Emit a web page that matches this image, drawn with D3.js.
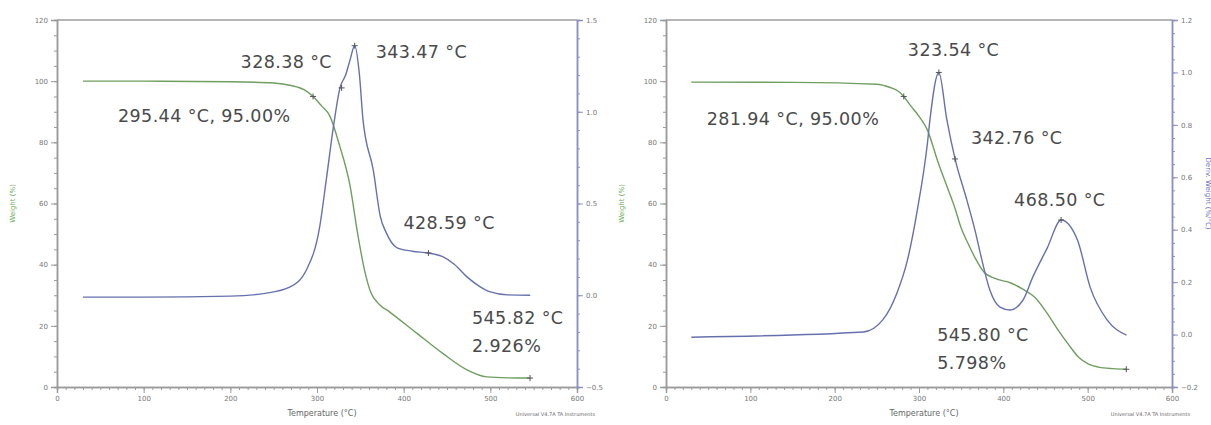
<!DOCTYPE html>
<html>
<head>
<meta charset="utf-8">
<script src="https://cdn.jsdelivr.net/npm/d3@7"></script>
<style>
  body { margin: 0; background: #fff; }
  svg { display: block; }
  .tick text { font-family: "DejaVu Sans", sans-serif; }
</style>
</head>
<body>
<div id="main"></div>
<script>
// ---- data ----
// left sample
const leftWeightT = [30, 100, 200, 250, 270, 285, 295.44, 305, 315, 326, 338, 347, 355, 362, 372, 384, 415, 445, 473, 496, 520, 545.82];
const leftWeight  = [100, 100, 99.8, 99.4, 98.6, 97.2, 95, 92, 88.5, 79, 66, 50, 38, 31, 27, 24.5, 17.6, 11, 5.6, 3.3, 3.0, 2.926];
const leftDerivT  = [30, 100, 200, 240, 269, 288, 303, 311, 319, 326.5, 333, 338, 343.47, 349, 353, 365, 373, 380, 392, 410, 428.59, 445, 458, 473, 487, 500, 520, 546];
const leftDeriv   = [-0.01, -0.01, -0.005, 0.01, 0.045, 0.14, 0.37, 0.64, 0.92, 1.13, 1.2, 1.28, 1.36, 1.2, 0.96, 0.68, 0.43, 0.34, 0.26, 0.24, 0.23, 0.21, 0.17, 0.1, 0.05, 0.018, 0.002, 0.0];

// right sample
const rightWeightT = [30, 150, 250, 265, 275, 281.94, 290, 300, 310, 322, 334, 342, 350, 358, 367, 377, 390, 409, 423, 437, 451, 465, 477, 489, 501, 513, 530, 545.8];
const rightWeight  = [99.7, 99.6, 99, 98, 96.8, 95, 92, 88.5, 84, 74, 65, 59, 52, 47, 42, 37.6, 35.5, 34, 32, 29.4, 24.5, 18.6, 14, 9.8, 7.5, 6.5, 6, 5.8];
const rightDerivT  = [30, 234, 257, 274, 286, 298, 310, 313, 323.54, 333, 342.76, 357, 367, 372, 384, 396, 408, 423, 435, 452, 468.5, 488, 503, 523, 546];
const rightDeriv   = [-0.01, 0.01, 0.056, 0.16, 0.28, 0.475, 0.73, 0.82, 1.0, 0.82, 0.67, 0.51, 0.39, 0.32, 0.17, 0.105, 0.094, 0.13, 0.22, 0.33, 0.437, 0.36, 0.18, 0.056, -0.002];

// tick labels
const tempTicks = [0, 100, 200, 300, 400, 500, 600];
const weightTicks = [0, 20, 40, 60, 80, 100, 120];
const leftDerivTicks = [-0.5, 0.0, 0.5, 1.0, 1.5];
const rightDerivTicks = [-0.2, 0.0, 0.2, 0.4, 0.6, 0.8, 1.0, 1.2];

// annotations (text offset from the marked point)
const leftNotes = [
  { lines: ["328.38 °C"], t: 328.38, dx: -101, dy: -20 },
  { lines: ["343.47 °C"], t: 343.47, dx: 21, dy: 12 },
  { lines: ["295.44 °C, 95.00%"], t: 295.44, dx: -195, dy: 26 },
  { lines: ["428.59 °C"], t: 428.59, dx: -25, dy: -24 },
  { lines: ["545.82 °C", "2.926%"], t: 545.82, dx: -58, dy: -54 }
];
const rightNotes = [
  { lines: ["323.54 °C"], t: 323.54, dx: -31, dy: -16 },
  { lines: ["342.76 °C"], t: 342.76, dx: 16, dy: -15 },
  { lines: ["281.94 °C, 95.00%"], t: 281.94, dx: -197, dy: 29 },
  { lines: ["468.50 °C"], t: 468.5, dx: -47, dy: -14 },
  { lines: ["545.80 °C", "5.798%"], t: 545.8, dx: -189, dy: -28 }
];

const width = 1211, height = 425;
const plotTop = 20, plotBottom = 387;
const green = "#6f9e5f", blue = "#6670ad", axisGrey = "#9a9a9a", textCol = "#4a4a4a";

const svg = d3.select("#main")
  .append("svg")
  .attr("width", width)
  .attr("height", height);

function drawPanel(p) {
  const x = d3.scaleLinear().domain([0, 600]).range([p.x0, p.x1]);
  const yW = d3.scaleLinear().domain([0, 120]).range([plotBottom, plotTop]);
  const yD = d3.scaleLinear().domain(p.dDomain).range([plotBottom, plotTop]);

  const g = svg.append("g");

  // top frame line
  g.append("line")
    .attr("x1", p.x0).attr("x2", p.x1)
    .attr("y1", plotTop).attr("y2", plotTop)
    .attr("stroke", "#b5b5b5").attr("stroke-width", 2);

  // x axis, minor then major
  const xMinor = g.append("g").attr("transform", `translate(0,${plotBottom})`)
    .call(d3.axisBottom(x).ticks(60).tickSize(3).tickFormat(""));
  const xAxis = g.append("g").attr("transform", `translate(0,${plotBottom})`)
    .call(d3.axisBottom(x).tickValues(tempTicks).tickSize(6).tickFormat(d3.format("d")));

  // left weight axis
  const wMinor = g.append("g").attr("transform", `translate(${p.x0},0)`)
    .call(d3.axisLeft(yW).ticks(24).tickSize(3).tickFormat(""));
  const wAxis = g.append("g").attr("transform", `translate(${p.x0},0)`)
    .call(d3.axisLeft(yW).tickValues(weightTicks).tickSize(6).tickFormat(d3.format("d")));

  // right deriv axis
  const dMinor = g.append("g").attr("transform", `translate(${p.x1},0)`)
    .call(d3.axisRight(yD).ticks(p.dMinor).tickSize(3).tickFormat(""));
  const dAxis = g.append("g").attr("transform", `translate(${p.x1},0)`)
    .call(d3.axisRight(yD).tickValues(p.dTicks).tickSize(6).tickFormat(d3.format(p.dFormat)));

  [xMinor, xAxis, wMinor, wAxis].forEach(a => {
    a.selectAll("path, line").attr("stroke", axisGrey);
    a.select(".domain").attr("stroke-width", 1.5);
  });
  [dMinor, dAxis].forEach(a => {
    a.selectAll("path, line").attr("stroke", "#8a90c4");
    a.select(".domain").attr("stroke-width", 1.5);
  });
  [xAxis, wAxis, dAxis].forEach(a => a.selectAll("text")
    .attr("fill", "#777").style("font-size", "7px"));

  // axis titles
  g.append("text")
    .attr("x", (p.x0 + p.x1) / 2 + 5).attr("y", 416)
    .attr("text-anchor", "middle")
    .attr("fill", "#666")
    .style("font-family", "DejaVu Sans").style("font-size", "8px")
    .text("Temperature (°C)");

  g.append("text")
    .attr("transform", `translate(${p.x0 - 42},${(plotTop + plotBottom) / 2}) rotate(-90)`)
    .attr("text-anchor", "middle")
    .attr("fill", "#6aaa55")
    .style("font-family", "DejaVu Sans").style("font-size", "7px")
    .text("Weight (%)");

  if (p.derivLabel) {
    g.append("text")
      .attr("transform", `translate(${p.x1 + 34},${(plotTop + plotBottom) / 2 - 10}) rotate(90)`)
      .attr("text-anchor", "middle")
      .attr("fill", "#6670c0")
      .style("font-family", "DejaVu Sans").style("font-size", "7px")
      .text("Deriv. Weight (%/°C)");
  }

  g.append("text")
    .attr("x", p.x1 + 18).attr("y", 416)
    .attr("text-anchor", "end")
    .attr("fill", "#666")
    .style("font-family", "DejaVu Sans").style("font-size", "5px")
    .text("Universal V4.7A TA Instruments");

  // curves
  const wData = p.wT.map((t, i) => [t, p.w[i]]);
  const dData = p.dT.map((t, i) => [t, p.d[i]]);

  g.append("path")
    .datum(wData)
    .attr("fill", "none")
    .attr("stroke", green)
    .attr("stroke-width", 1.4)
    .attr("d", d3.line().x(d => x(d[0])).y(d => yW(d[1])).curve(d3.curveMonotoneX));

  g.append("path")
    .datum(dData)
    .attr("fill", "none")
    .attr("stroke", blue)
    .attr("stroke-width", 1.4)
    .attr("d", d3.line().x(d => x(d[0])).y(d => yD(d[1])).curve(d3.curveMonotoneX));

  // annotations
  p.notes.forEach(n => {
    let px = x(n.t), py;
    const wi = p.wT.indexOf(n.t), di = p.dT.indexOf(n.t);
    if (wi >= 0) py = yW(p.w[wi]);
    else if (di >= 0) py = yD(p.d[di]);
    else py = yD(d3.least(dData, d => Math.abs(d[0] - n.t))[1]);

    g.append("path")
      .attr("d", `M${px - 3},${py}h6M${px},${py - 3}v6`)
      .attr("stroke", "#555").attr("stroke-width", 1);

    n.lines.forEach((s, i) => {
      g.append("text")
        .attr("x", px + n.dx)
        .attr("y", py + n.dy + i * 28)
        .attr("fill", textCol)
        .style("font-family", "DejaVu Sans")
        .style("font-size", "17.5px")
        .style("letter-spacing", "0.4px")
        .text(s);
    });
  });
}

drawPanel({
  x0: 57, x1: 577,
  dDomain: [-0.5, 1.5], dTicks: leftDerivTicks, dMinor: 20, dFormat: ".1f",
  wT: leftWeightT, w: leftWeight, dT: leftDerivT, d: leftDeriv,
  notes: leftNotes, derivLabel: false
});

drawPanel({
  x0: 666, x1: 1172,
  dDomain: [-0.2, 1.2], dTicks: rightDerivTicks, dMinor: 28, dFormat: ".1f",
  wT: rightWeightT, w: rightWeight, dT: rightDerivT, d: rightDeriv,
  notes: rightNotes, derivLabel: true
});
</script>
</body>
</html>
